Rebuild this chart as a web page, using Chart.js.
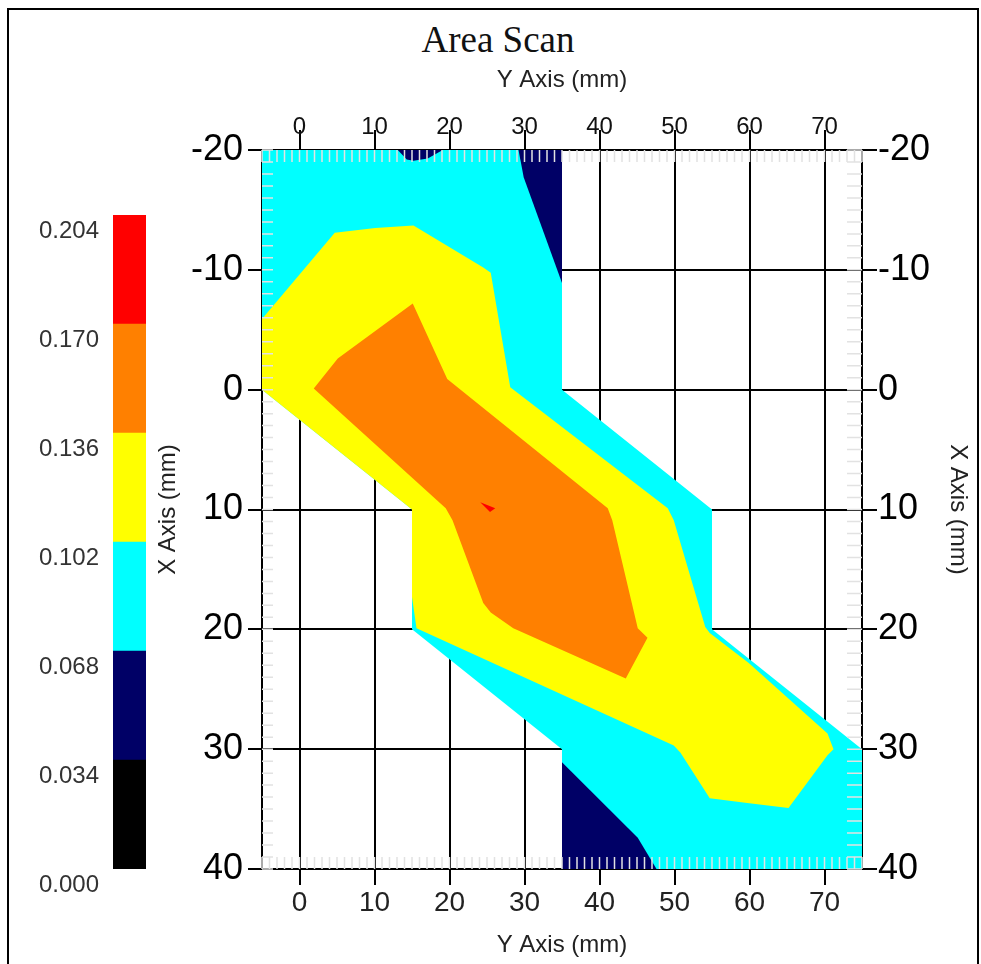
<!DOCTYPE html>
<html>
<head>
<meta charset="utf-8">
<title>Area Scan</title>
<script src="https://cdn.jsdelivr.net/npm/chart.js@4.4.1/dist/chart.umd.min.js"></script>
<style>
  html, body { margin: 0; padding: 0; background: #fff; overflow: hidden; }
  #frame { position: absolute; left: 7px; top: 8px; width: 968px; height: 1000px; border: 2px solid #000; }
  #title { position: absolute; left: 398px; top: 21px; width: 200px; text-align: center;
           font: 37px/37px "Liberation Serif", "Times New Roman", serif; color: #111; }
  #bar { position: absolute; left: 0; top: 0; width: 160px; height: 964px; }
  #plot { position: absolute; left: 0; top: 0; width: 981px; height: 964px; }
</style>
</head>
<body>
<div id="frame"></div>
<div id="title">Area Scan</div>
<div id="bar"><canvas id="barChart"></canvas></div>
<div id="plot"><canvas id="scanChart"></canvas></div>
<script>
// tick labels
const yAxisTicks = [0, 10, 20, 30, 40, 50, 60, 70];      // horizontal "Y Axis (mm)"
const xAxisTicks = [-20, -10, 0, 10, 20, 30, 40];         // vertical "X Axis (mm)"

// colour scale
const levels = [0, 0.034, 0.068, 0.102, 0.136, 0.170, 0.204];
const levelColors = ["#000000", "#000066", "#00ffff", "#ffff00", "#ff8000", "#ff0000"];

// contour bands, points are [Y mm, X mm]
const band068 = [[-5, -20], [35, -20], [35, 0], [55, 10], [55, 20], [75, 30], [75, 40],
  [35, 40], [35, 30], [15, 20], [15, 10], [-5, 0]];
const band034TopLeft = [[13.1, -20], [14.3, -19.2], [15.2, -19.1], [17.1, -19.3], [19.1, -20]];
const band034TopRight = [[29.2, -20], [29.9, -17.7], [35, -8.9], [35, -20]];
const band034Bottom = [[35, 31.1], [45.1, 37.4], [47.6, 40], [35, 40]];
const band102 = [[-5, -5.9], [4.7, -13.1], [10.1, -13.5], [15.2, -13.7], [24.5, -10.2],
  [25.5, -9.75], [28.1, -0.2], [49.1, 9.9], [49.9, 10.9], [54.1, 19.8], [54.7, 20.3],
  [59.9, 22.8], [70.4, 28.7], [71.2, 30], [70.4, 30.5], [65.2, 34.9], [59.7, 34.5],
  [54.7, 34.1], [50.8, 30.3], [49.9, 29.7], [15.6, 19.9], [15, 17.3], [15, 10], [-5, 0]];
const band136 = [[15.1, -7.2], [19.7, -0.9], [41.1, 9.9], [41.7, 10.9], [45.1, 19.9],
  [46.4, 20.7], [43.5, 24.1], [28.5, 19.9], [25.5, 18.6], [24.5, 17.8], [20.4, 10.9],
  [19.5, 9.9], [1.9, -0.1], [5.1, -2.6], [10.1, -4.9]];
const band170 = [[24.1, 9.4], [26.1, 9.9], [25.4, 10.2]];

// bottom to top
const layers = [
  { pts: band068, color: levelColors[2] },
  { pts: band034TopLeft, color: levelColors[1] },
  { pts: band034TopRight, color: levelColors[1] },
  { pts: band034Bottom, color: levelColors[1] },
  { pts: band102, color: levelColors[3] },
  { pts: band136, color: levelColors[4] },
  { pts: band170, color: levelColors[5] },
];

const sans = "Arial, 'Liberation Sans', sans-serif";

// small light ticks along the inside of the plot frame
const minorTicks = {
  id: "minorTicks",
  afterDatasetsDraw(chart) {
    const { ctx, chartArea: a, scales: { x, y } } = chart;
    ctx.save();
    ctx.strokeStyle = "#e2e2e2";
    ctx.lineWidth = 1.5;
    ctx.beginPath();
    for (let v = Math.ceil(x.min); v <= x.max; v++) {
      const px = x.getPixelForValue(v);
      ctx.moveTo(px, a.top); ctx.lineTo(px, a.top + 12);
      ctx.moveTo(px, a.bottom); ctx.lineTo(px, a.bottom - 12);
    }
    for (let v = Math.ceil(y.min); v <= y.max; v++) {
      const py = y.getPixelForValue(v);
      ctx.moveTo(a.left, py); ctx.lineTo(a.left + 11, py);
      ctx.moveTo(a.right, py); ctx.lineTo(a.right - 15, py);
    }
    ctx.stroke();
    ctx.restore();
  }
};

new Chart(document.getElementById("scanChart"), {
  type: "scatter",
  data: {
    datasets: layers.map((l, i) => ({
      data: l.pts.map(([h, v]) => ({ x: h, y: v })),
      showLine: true,
      fill: "shape",
      backgroundColor: l.color,
      borderWidth: 0,
      pointRadius: 0,
      tension: 0,
      order: layers.length - i,
    })),
  },
  options: {
    responsive: true,
    maintainAspectRatio: false,
    animation: false,
    layout: { padding: { left: 150, top: 60, right: 4.6, bottom: 0 } },
    plugins: { legend: { display: false }, tooltip: { enabled: false } },
    scales: {
      x: {
        type: "linear", position: "bottom", min: -5, max: 75, z: 1,
        afterBuildTicks: (s) => { s.ticks = yAxisTicks.map((v) => ({ value: v })); },
        afterFit: (s) => { s.height = 95; },
        grid: { color: "#000", lineWidth: 2, tickLength: 16 },
        border: { color: "#000", width: 2 },
        ticks: { color: "#222", font: { size: 28, family: sans }, padding: 1, autoSkip: false, maxRotation: 0 },
        title: { display: true, text: "Y Axis (mm)", color: "#222", font: { size: 24, family: sans }, padding: { top: 0, bottom: 4.6 } },
      },
      x2: {
        type: "linear", position: "top", min: -5, max: 75, z: 1,
        afterBuildTicks: (s) => { s.ticks = yAxisTicks.map((v) => ({ value: v })); },
        afterFit: (s) => { s.height = 90; },
        grid: { drawOnChartArea: false, color: "#000", lineWidth: 2, tickLength: 20 },
        border: { color: "#000", width: 2 },
        ticks: { color: "#111", font: { size: 24, family: sans }, padding: -11.4, autoSkip: false, maxRotation: 0 },
        title: { display: true, text: "Y Axis (mm)", color: "#222", font: { size: 24, family: sans }, padding: { top: 5.6, bottom: 0 } },
      },
      y: {
        type: "linear", position: "left", reverse: true, min: -20, max: 40, z: 1,
        afterBuildTicks: (s) => { s.ticks = xAxisTicks.map((v) => ({ value: v })); },
        afterFit: (s) => { s.width = 112; },
        grid: { color: "#000", lineWidth: 2, tickLength: 14 },
        border: { color: "#000", width: 2 },
        ticks: { color: "#000", font: { size: 36, family: sans }, padding: 5, autoSkip: false },
        title: { display: true, text: "X Axis (mm)", color: "#222", font: { size: 24, family: sans }, padding: { top: 4, bottom: 0 } },
      },
      y2: {
        type: "linear", position: "right", reverse: true, min: -20, max: 40, z: 1,
        afterBuildTicks: (s) => { s.ticks = xAxisTicks.map((v) => ({ value: v })); },
        afterFit: (s) => { s.width = 114.4; },
        grid: { drawOnChartArea: false, color: "#000", lineWidth: 2, tickLength: 15 },
        border: { color: "#000", width: 2 },
        ticks: { color: "#000", font: { size: 36, family: sans }, padding: 1, autoSkip: false },
        title: { display: true, text: "X Axis (mm)", color: "#222", font: { size: 24, family: sans }, padding: { top: 4, bottom: 0 } },
      },
    },
  },
  plugins: [minorTicks],
});

// colour bar on the left
new Chart(document.getElementById("barChart"), {
  type: "bar",
  data: {
    labels: [""],
    datasets: levelColors.map((c, i) => ({
      data: [[levels[i], levels[i + 1]]],
      backgroundColor: c,
      borderWidth: 0,
      barPercentage: 1,
      categoryPercentage: 1,
      grouped: false,
    })),
  },
  options: {
    responsive: true,
    maintainAspectRatio: false,
    animation: false,
    layout: { padding: { top: 215, bottom: 95, left: 0, right: 14 } },
    plugins: { legend: { display: false }, tooltip: { enabled: false } },
    scales: {
      x: { display: false },
      y: {
        min: 0, max: 0.204,
        afterBuildTicks: (s) => { s.ticks = levels.map((v) => ({ value: v })); },
        afterFit: (s) => { s.width = 113; },
        grid: { display: false, drawTicks: false },
        border: { display: false },
        ticks: { color: "#333", font: { size: 24, family: sans }, padding: 14, labelOffset: 16,
                 autoSkip: false, callback: (v) => Number(v).toFixed(3) },
      },
    },
  },
});
</script>
</body>
</html>
